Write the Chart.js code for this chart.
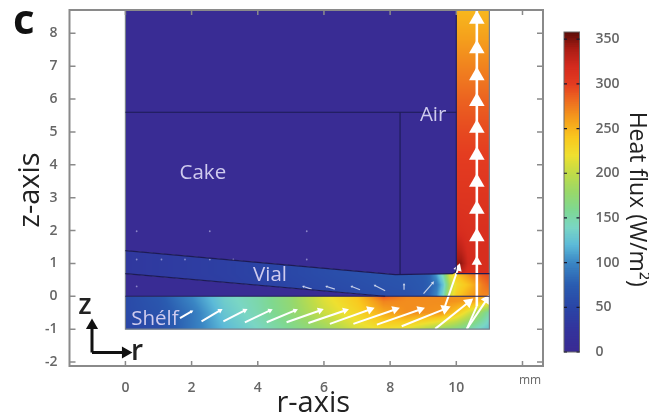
<!DOCTYPE html>
<html><head><meta charset="utf-8">
<style>
html,body{margin:0;padding:0;background:#fff;width:649px;height:419px;overflow:hidden}
canvas{position:absolute;top:0;filter:blur(0.55px)}
#main{left:0}#bar{left:540px}
</style>
<script src="https://cdn.jsdelivr.net/npm/chart.js@4"></script>
</head><body>
<canvas id="main" width="649" height="419"></canvas>
<canvas id="bar" width="109" height="419"></canvas>
<script>
// ---- colour scale (W/m^2 -> colour) ----
const fluxStops = [0,25,50,75,100,120,140,160,180,200,220,240,260,280,300,320,340,358];
const fluxColours = ['#3a2a92','#33339c','#2a45a6','#2a5cb0','#3a86c4','#5cbad8','#7ad6c4','#7fd890','#9ad868','#c0dc48','#eee030','#f9c81e','#f5a01c','#ee7020','#e43c20','#d42a1e','#a81c14','#5c0c08'];
const fluxTicks = [0,50,100,150,200,250,300,350];
// ---- shelf field ----
const shelfR = [0,1,2,3,4,5,6,7,7.8,8.5,9.5,10,10.5,11];
const shelfZ = [-1,-0.5,-0.15,0];
const shelfBottom = [50,58,90,120,140,160,180,210,222,215,180,165,145,125];
const shelfMiddle = [55,65,90,128,148,172,205,230,255,268,265,240,200,150];
const shelfUpper  = [55,68,98,133,150,175,212,238,272,268,268,265,260,235];
const shelfTop    = [55,70,100,135,150,175,215,240,290,270,268,265,265,250];
// ---- vial field ----
const vialR = [0,3,6,7.5,8.5,9,9.2,9.4,9.6,9.8,10,10.4,10.8,11];
const vialZ = [0,0.35,0.69,1.4];
const vialBottom = [30,38,50,58,62,70,80,100,140,205,235,260,270,270];
const vialMiddle = [30,40,55,62,66,70,78,90,125,190,225,245,275,285];
const vialUpper  = [32,42,58,65,68,72,80,110,150,215,240,270,290,295];
const vialTop    = [32,42,58,65,68,72,80,110,150,215,240,270,290,295];
// ---- air channel field ----
const airR = [10,10.15,10.35,10.7,11];
const airZ = [0.69,1.0,1.4,2,3,4,5,6,7,8,8.71];
const airFlux = [
 [300,325,315,315,315],[345,345,322,316,316],[335,330,318,316,316],[318,316,314,314,314],
 [308,308,308,308,308],[302,302,302,302,302],[295,295,295,295,295],[285,285,285,285,285],
 [272,272,272,272,272],[258,258,258,258,258],[248,248,248,248,248]];
const cakeFlux = 5;
// ---- region outlines ----
const cakeOutline = [[0,8.71],[10,8.71],[10,0.85],[9.97,0.73],[9.88,0.69],[8.16,0.66],[0,1.39]];
const gapOutline = [[0,0],[7.85,0],[0,0.69]];
const vialOutline = [[0,0.69],[0,1.39],[8.16,0.66],[9.88,0.69],[9.97,0.73],[10,0.85],[10,0.69],[11,0.69],[11,0],[7.85,0]];
const boundaryLines = [
 [[0,5.6],[10,5.6]], [[8.3,5.6],[8.3,0.66]], [[0,1.39],[8.16,0.66],[9.88,0.69],[9.97,0.73],[10,0.85],[10,8.71]],
 [[0,0.69],[7.85,0]], [[0,0],[11,0]], [[10,0.69],[11,0.69]]];
const outerBox = [[0,8.71],[0,-1],[11,-1],[11,8.71]];
// ---- faint specks of tiny flux arrows in the cake and vial ----
const speckR = [0.34,2.55,5.48,0.34,1.09,1.80,2.55,3.26,5.48,0.34];
const speckZ = [1.98,1.98,1.98,1.12,1.12,1.12,1.12,1.12,1.12,0.30];
// ---- white flux arrows: tail r, tail z, head r, head z, head size ----
const shelfArrows = [
 [1.65,-0.66,2.00,-0.46,2],[2.30,-0.76,2.86,-0.43,3],[2.96,-0.76,3.61,-0.43,3],[3.61,-0.79,4.37,-0.43,3],
 [4.27,-0.79,5.13,-0.43,3],[4.87,-0.79,5.88,-0.43,4],[5.53,-0.81,6.64,-0.43,4],[6.18,-0.84,7.39,-0.40,5],
 [6.89,-0.84,8.15,-0.40,5],[7.60,-0.86,8.91,-0.40,5],[8.35,-0.91,9.66,-0.38,6],[9.36,-0.99,10.37,-0.18,6],
 [10.32,-0.99,10.92,-0.10,6],[9.66,-0.30,10.06,0.86,5]];
const vialArrows = [
 [5.63,0.22,5.38,0.30,1.5],[6.33,0.22,6.08,0.30,1.5],[7.09,0.20,6.84,0.30,1.5],[7.85,0.17,7.54,0.33,1.5],
 [8.42,0.20,8.42,0.36,1.5],[9.01,0.08,9.29,0.41,2]];
const airArrowR = 10.62;
const airHeadZ = [-0.3,1.05,1.81,2.65,3.47,4.29,5.11,5.93,6.71,7.53,8.43];
const airHeadSize = [0,6,9,9,9,9,9,9,9,9,9];
const airFoot = [[10.32,-0.99],[10.62,-0.3]];
// ---- black r/z triad ----
const triad = [[-1.01,-1.71,-1.01,-0.89],[-1.01,-1.71,0.0,-1.71]];
// ---- text ----
const labelText = ['Cake','Air','Vial','Shélf','z','r','mm','c'];
const labelR = [2.34,9.30,4.37,0.89,-1.22,0.35,12.23,-3.07];
const labelZ = [3.76,5.52,0.63,-0.71,-0.31,-1.68,-2.56,8.33];
const labelFont = ['20.5px "Open Sans"','20.5px "Open Sans"','20.5px "Open Sans"','20.5px "Open Sans"','600 28px "Open Sans"','600 28px "Open Sans"','12px "Open Sans"','bold 42px "Open Sans"'];
const labelColour = ['#cfcbee','#cfcbee','#cfcbee','#cfcbee','#222','#222','#666','#111'];
const rTicksMax = 12;
const colourBarTitle = 'Heat flux (W/m²)';

function hex(c){return [1,3,5].map(i=>parseInt(c.substr(i,2),16));}
const stopRGB = fluxColours.map(hex);
function colourOf(v){
  if(v<=fluxStops[0])return stopRGB[0];
  for(let i=1;i<fluxStops.length;i++){
    if(v<=fluxStops[i]){const t=(v-fluxStops[i-1])/(fluxStops[i]-fluxStops[i-1]);
      return stopRGB[i].map((c,k)=>stopRGB[i-1][k]+(c-stopRGB[i-1][k])*t);}
  }
  return stopRGB[stopRGB.length-1];
}
function locate(a,x){
  if(x<=a[0])return [0,0];
  for(let i=1;i<a.length;i++) if(x<=a[i]) return [i-1,(x-a[i-1])/(a[i]-a[i-1])];
  return [a.length-2,1];
}
function nudgeTitle(s,dx,dy){
  if(s._nudged)return; s._nudged=true;
  const draw=s.drawTitle;
  s.drawTitle=function(){this.ctx.save();this.ctx.translate(dx,dy);draw.call(this);this.ctx.restore();};
}
const regions = [
 {r:airR,z:airZ,v:airFlux,clip:[[10,0.69],[11,0.69],[11,8.71],[10,8.71]]},
 {r:[0,10],z:[0,8.71],v:[[cakeFlux,cakeFlux],[cakeFlux,cakeFlux]],clip:cakeOutline},
 {r:[0,8],z:[0,0.7],v:[[cakeFlux,cakeFlux],[cakeFlux,cakeFlux]],clip:gapOutline},
 {r:vialR,z:vialZ,v:[vialBottom,vialMiddle,vialUpper,vialTop],clip:vialOutline},
 {r:shelfR,z:shelfZ,v:[shelfBottom,shelfMiddle,shelfUpper,shelfTop],clip:[[0,-1],[11,-1],[11,0],[0,0]]}
];
const fieldPlugin = {id:'field',beforeDatasetsDraw(chart){
  const {ctx,scales:{x,y}}=chart;
  regions.forEach(g=>{
    const xs=g.clip.map(p=>x.getPixelForValue(p[0])), ys=g.clip.map(p=>y.getPixelForValue(p[1]));
    const x0=Math.floor(Math.min(...xs)),x1=Math.ceil(Math.max(...xs)),y0=Math.floor(Math.min(...ys)),y1=Math.ceil(Math.max(...ys));
    const w=x1-x0,h=y1-y0;
    const off=document.createElement('canvas');off.width=w;off.height=h;
    const oc=off.getContext('2d'),img=oc.createImageData(w,h);
    for(let j=0;j<h;j++){
      const [zi,zt]=locate(g.z,y.getValueForPixel(y0+j+0.5));
      for(let i=0;i<w;i++){
        const [ri,rt]=locate(g.r,x.getValueForPixel(x0+i+0.5));
        const a=g.v[zi][ri]*(1-rt)+g.v[zi][ri+1]*rt, b=g.v[zi+1][ri]*(1-rt)+g.v[zi+1][ri+1]*rt;
        const c=colourOf(a*(1-zt)+b*zt),o=(j*w+i)*4;
        img.data[o]=c[0];img.data[o+1]=c[1];img.data[o+2]=c[2];img.data[o+3]=255;
      }
    }
    oc.putImageData(img,0,0);
    ctx.save();ctx.beginPath();
    xs.forEach((px,i)=>i?ctx.lineTo(px,ys[i]):ctx.moveTo(px,ys[i]));
    ctx.closePath();ctx.clip();ctx.drawImage(off,x0,y0);ctx.restore();
  });
}};
const framePlugin = {id:'frame',afterDraw(chart){
  const {ctx,chartArea:a,scales:{x,y}}=chart;
  ctx.save();ctx.strokeStyle='#8a8a8a';ctx.lineWidth=2;
  ctx.strokeRect(a.left,a.top,a.right-a.left,a.bottom-a.top);
  ctx.lineWidth=1.5;ctx.beginPath();
  x.ticks.forEach(t=>{const p=x.getPixelForValue(t.value);ctx.moveTo(p,a.bottom);ctx.lineTo(p,a.bottom-5);ctx.moveTo(p,a.top);ctx.lineTo(p,a.top+5);});
  y.ticks.forEach(t=>{const p=y.getPixelForValue(t.value);ctx.moveTo(a.left,p);ctx.lineTo(a.left+6,p);ctx.moveTo(a.right,p);ctx.lineTo(a.right-6,p);});
  ctx.stroke();
  ctx.textAlign='center';ctx.textBaseline='middle';
  labelText.forEach((s,i)=>{ctx.font=labelFont[i];ctx.fillStyle=labelColour[i];
    ctx.fillText(s,x.getPixelForValue(labelR[i]),y.getPixelForValue(labelZ[i]));});
  ctx.restore();
}};
function line(pts,colour,w){return {type:'scatter',showLine:true,data:pts.map(p=>({x:p[0],y:p[1]})),borderColor:colour,borderWidth:w,pointRadius:0,fill:false,tension:0,clip:false};}
function arrow(a,colour,w){
  const ang=Math.atan2(a[2]-a[0],a[3]-a[1])*180/Math.PI;
  return {type:'scatter',showLine:true,data:[{x:a[0],y:a[1]},{x:a[2],y:a[3]}],borderColor:colour,borderWidth:w,
    pointStyle:'triangle',pointRadius:[0,a[4]],pointRotation:[0,ang],pointBackgroundColor:colour,pointBorderColor:colour,pointBorderWidth:0,tension:0,clip:false};
}
const datasets=[];
boundaryLines.forEach(l=>datasets.push(line(l,'#1d1b55',1.1)));
datasets.push(line(outerBox,'#77808a',1.2));
datasets.push({type:'scatter',data:speckR.map((r,i)=>({x:r,y:speckZ[i]})),pointRadius:0.9,pointBorderWidth:0,pointBackgroundColor:'rgba(205,205,240,0.55)',showLine:false});
vialArrows.forEach(a=>datasets.push(arrow(a,'rgba(232,236,246,0.8)',1.2)));
shelfArrows.forEach(a=>datasets.push(arrow(a,'#ffffff',2)));
datasets.push(line(airFoot,'#ffffff',2));
airHeadZ.forEach((z,i)=>{
  const from=i?airHeadZ[i-1]:-0.3;
  datasets.push(arrow([airArrowR,from,airArrowR,z,airHeadSize[i]],'#ffffff',2.6));
});
datasets.push(line([[airArrowR,8.43],[airArrowR,8.71]],'#ffffff',2.6));
triad.forEach(t=>datasets.push(arrow([t[0],t[1],t[2],t[3],7],'#111111',3)));

new Chart(document.getElementById('main'),{
  type:'scatter',
  data:{datasets},
  plugins:[fieldPlugin,framePlugin],
  options:{responsive:false,animation:false,
    layout:{padding:{top:10,right:106,left:0,bottom:0}},
    plugins:{legend:{display:false},tooltip:{enabled:false}},
    scales:{
      x:{type:'linear',min:-1.69,max:12.62,
        afterFit:s=>{s.height=53;s.paddingLeft=0;s.paddingRight=0;nudgeTitle(s,7,0);},
        grid:{display:false},border:{display:false},
        ticks:{stepSize:2,includeBounds:false,autoSkip:false,maxRotation:0,padding:6,color:'#666',
          font:{family:'"Open Sans"',size:14,weight:'600'},
          callback:v=>v===rTicksMax?'':String(v)},
        title:{display:true,text:'r-axis',color:'#222',font:{family:'"Open Sans"',size:29},padding:{top:0,bottom:-2}}},
      y:{type:'linear',min:-2.12,max:8.71,
        afterFit:s=>{s.width=69.5;s.paddingTop=0;s.paddingBottom=0;nudgeTitle(s,0,2);},
        grid:{display:false},border:{display:false},
        ticks:{stepSize:1,includeBounds:false,autoSkip:false,padding:4,color:'#666',
          font:{family:'"Open Sans"',size:14,weight:'600'}},
        title:{display:true,text:'z-axis',color:'#222',font:{family:'"Open Sans"',size:29},padding:{top:13,bottom:0}}}
    }
  }
});

// ---- colour bar ----
const barBands=[];
for(let lo=356;lo>=0;lo-=2) barBands.push(lo);
const barFramePlugin={id:'barFrame',afterDraw(chart){
  const {ctx,chartArea:a,scales:{y}}=chart;
  ctx.save();ctx.strokeStyle='#6a6a6a';ctx.lineWidth=1;
  ctx.strokeRect(a.left,a.top,a.right-a.left,a.bottom-a.top);
  ctx.strokeStyle='#1a1a30';ctx.lineWidth=1.2;ctx.beginPath();
  fluxTicks.forEach(v=>{const p=y.getPixelForValue(v);ctx.moveTo(a.left,p);ctx.lineTo(a.left+3,p);ctx.moveTo(a.right,p);ctx.lineTo(a.right-3,p);});
  ctx.stroke();
  ctx.translate(chart.width-12,y.getPixelForValue(171));ctx.rotate(Math.PI/2);
  ctx.font='23px "Open Sans"';ctx.fillStyle='#222';ctx.textAlign='center';ctx.textBaseline='middle';
  ctx.fillText(colourBarTitle,0,0);
  ctx.restore();
}};
new Chart(document.getElementById('bar'),{
  type:'bar',
  data:{labels:['flux'],datasets:barBands.map(lo=>{const c=colourOf(lo+1).map(Math.round);
    return {data:[[lo,358]],backgroundColor:`rgb(${c[0]},${c[1]},${c[2]})`,borderWidth:0,borderSkipped:false,grouped:false,barPercentage:1,categoryPercentage:1};})},
  plugins:[barFramePlugin],
  options:{responsive:false,animation:false,
    layout:{padding:{top:32,left:24,right:0,bottom:0}},
    plugins:{legend:{display:false},tooltip:{enabled:false}},
    scales:{
      x:{display:true,afterFit:s=>{s.height=67;},grid:{display:false},border:{display:false},ticks:{display:false}},
      y:{position:'right',min:0,max:358,afterFit:s=>{s.width=69.5;s.paddingTop=0;s.paddingBottom=0;},
        grid:{display:false},border:{display:false},
        afterBuildTicks:s=>{s.ticks=fluxTicks.map(v=>({value:v}));},
        ticks:{padding:8,color:'#666',autoSkip:false,font:{family:'"Open Sans"',size:14,weight:'600'}}}
    }
  }
});
</script>
</body></html>
